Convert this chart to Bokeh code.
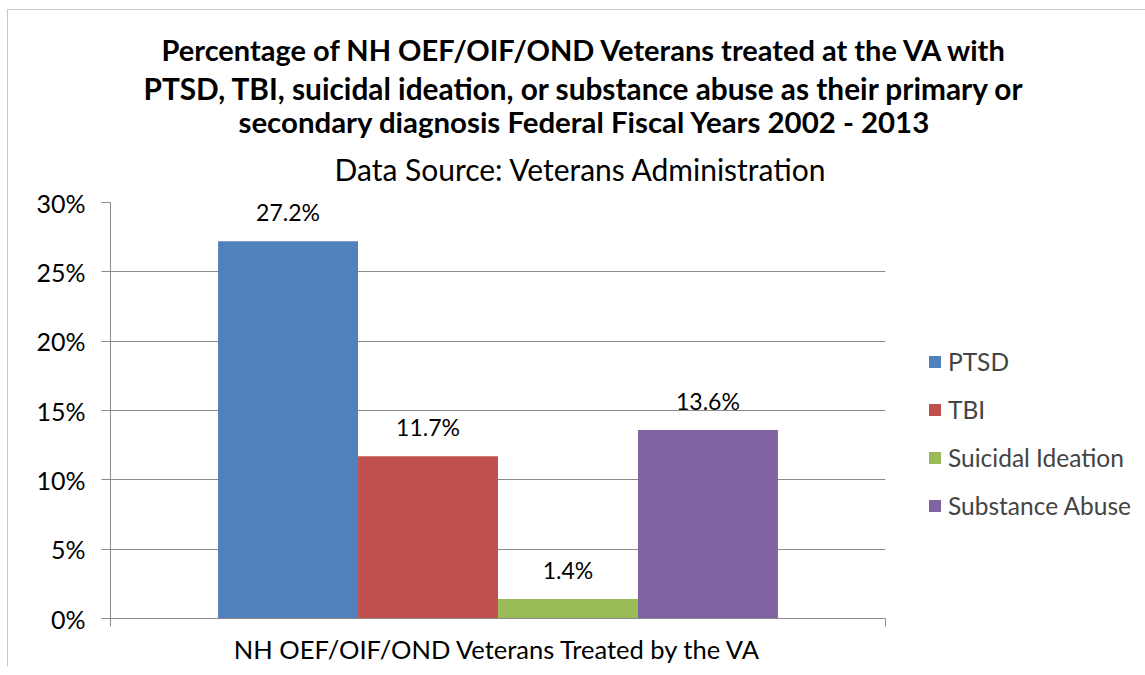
from bokeh.plotting import figure
from bokeh.models import (Range1d, Legend, LegendItem, Title,
                          FixedTicker, ColumnDataSource, LinearAxis)
from bokeh.core.properties import value
from bokeh.embed import file_html
from bokeh.resources import INLINE

# ---- data ----
category = ["NH OEF/OIF/OND Veterans Treated by the VA"]
series = ["PTSD", "TBI", "Suicidal Ideation", "Substance Abuse"]
values = [27.2, 11.7, 1.4, 13.6]
value_labels = ["27.2%", "11.7%", "1.4%", "13.6%"]
colors = ["#4F81BD", "#C0504D", "#9BBB59", "#8064A2"]
y_ticks = [0, 5, 10, 15, 20, 25, 30]
y_tick_labels = ["0%", "5%", "10%", "15%", "20%", "25%", "30%"]
title_lines = [
    "Percentage of NH OEF/OIF/OND Veterans treated at the VA with",
    "PTSD, TBI, suicidal ideation, or substance abuse as their primary or",
    "secondary diagnosis Federal Fiscal Years 2002 - 2013",
]
subtitle = "Data Source: Veterans Administration"

FONT = "Lato"
GRAY = "#8A8A8A"
OX, OY = 8, 10   # chart-area border offset on the page

# one category slot spanning [0, 1]; its centre is at 0.5
n_cat = len(category)
cat_centers = [i + 0.5 for i in range(n_cat)]

p = figure(
    x_range=Range1d(0, n_cat),
    y_range=Range1d(0, 30),
    frame_width=775, frame_height=416,
    min_border_left=110 - OX, min_border_right=1145 - OX - 110 - 775,
    min_border_top=202 - OY, min_border_bottom=675 - OY - 618,
    output_backend="svg", toolbar_location=None,
)
p.styles = {"margin-left": f"{OX - 1}px", "margin-top": f"{OY - 1}px",
            "border-left": "1px solid #C8C8C8", "border-top": "1px solid #C8C8C8"}
p.outline_line_color = None
p.background_fill_color = "white"
p.border_fill_color = "white"

bar_w = 0.1806
renderers = []
for i, (name, v, lbl, c) in enumerate(zip(series, values, value_labels, colors)):
    off = (i - 1.5) * bar_w
    src = ColumnDataSource(dict(x=[cc + off for cc in cat_centers], val=[v], lbl=[lbl]))
    r = p.vbar(x="x", top="val", width=bar_w, bottom=0, source=src,
               fill_color=c, line_color=None)
    renderers.append(r)
    p.text(x="x", y="val", text="lbl", source=src,
           text_align="center", text_baseline="alphabetic", y_offset=-29,
           text_font=value(FONT), text_font_size="23px", text_color="black")

# y axis
p.yaxis.ticker = FixedTicker(ticks=y_ticks)
p.yaxis.major_label_overrides = {t: l for t, l in zip(y_ticks, y_tick_labels)}
p.yaxis.major_label_text_font = FONT
p.yaxis.major_label_text_font_size = "25px"
p.yaxis.major_label_text_color = "black"
p.yaxis.axis_line_color = GRAY
p.yaxis.major_tick_line_color = GRAY
p.yaxis.major_tick_in = 0
p.yaxis.major_tick_out = 9
p.yaxis.minor_tick_line_color = None
p.yaxis.major_label_standoff = 16

# x axis line with tick marks at the category boundaries
edge_axis = p.xaxis[0]
edge_axis.ticker = FixedTicker(ticks=list(range(n_cat + 1)))
edge_axis.major_label_overrides = {i: "" for i in range(n_cat + 1)}
edge_axis.major_label_text_font_size = "1px"
edge_axis.major_label_standoff = 0
edge_axis.axis_line_color = GRAY
edge_axis.major_tick_line_color = GRAY
edge_axis.major_tick_in = 0
edge_axis.major_tick_out = 8
edge_axis.minor_tick_line_color = None

# category label axis
cat_axis = LinearAxis(ticker=FixedTicker(ticks=cat_centers),
                      major_label_overrides={cc: c for cc, c in zip(cat_centers, category)},
                      axis_line_color=None, major_tick_line_color=None,
                      minor_tick_line_color=None, major_tick_in=0, major_tick_out=0,
                      major_label_text_font=FONT, major_label_text_font_size="25.5px",
                      major_label_text_color="black", major_label_standoff=7)
p.add_layout(cat_axis, "below")

p.xgrid.grid_line_color = None
p.ygrid.grid_line_color = GRAY
p.ygrid.grid_line_width = 1

# legend
legend = Legend(
    items=[LegendItem(label=s, renderers=[r]) for s, r in zip(series, renderers)],
    location=(42, 98),
    glyph_width=15, glyph_height=15, label_height=24, spacing=19,
    label_standoff=6, padding=0, margin=0,
    label_text_font=FONT, label_text_font_size="24.5px",
    border_line_color=None, background_fill_alpha=0,
)
p.add_layout(legend, "right")

# titles (stacked above the frame, nearest first)
p.add_layout(Title(text=subtitle, align="left", offset=224, standoff=31,
                   text_font=FONT, text_font_size="30px", text_font_style="normal",
                   text_color="black"), "above")
offsets = [51, 33, 128]
sizes = ["29px", "29.8px", "29.4px"]
standoffs = [3, 1, -10]
for t, off, fs, so in reversed(list(zip(title_lines, offsets, sizes, standoffs))):
    p.add_layout(Title(text=t, align="left", offset=off, standoff=so,
                       text_font=FONT, text_font_size=fs, text_font_style="bold",
                       text_color="black"), "above")

open("out.html", "w").write(file_html(p, INLINE))
